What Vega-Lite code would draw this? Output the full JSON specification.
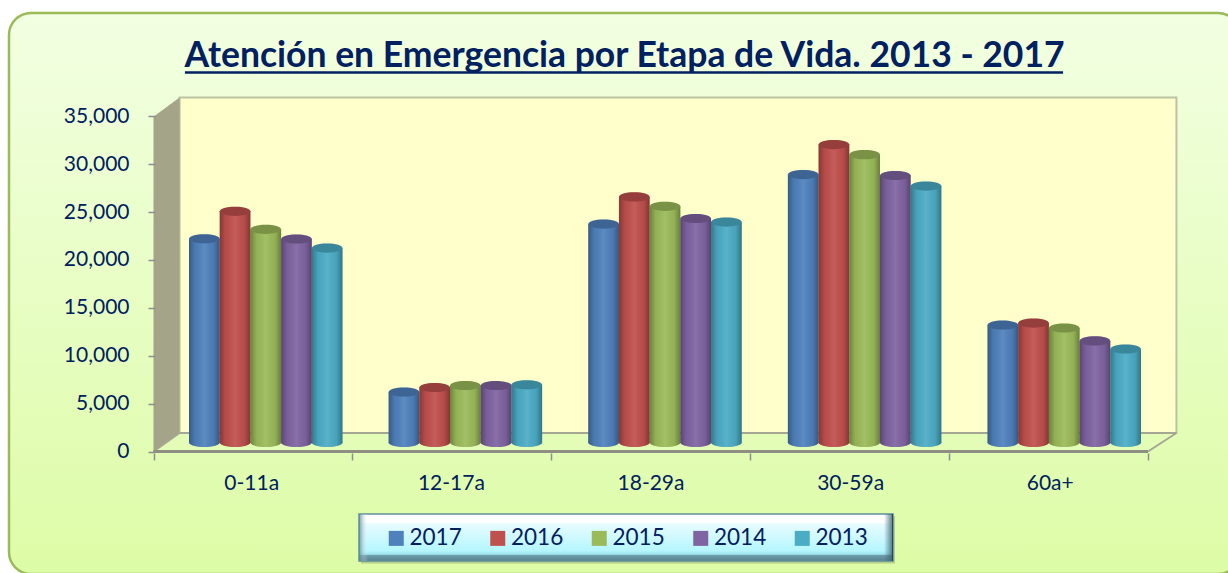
{
"$schema":"https://vega.github.io/schema/vega-lite/v6.json",
"width":1231,"height":561,
"autosize":{"type":"none"},
"padding":{"left":9,"top":13,"right":0,"bottom":0},
"background":"#ffffff",
"config":{"view":{"stroke":null}},
"title":{"text":"Atención en Emergencia por Etapa de Vida. 2013 - 2017","font":"Lato","fontSize":35.5,"fontWeight":"bold","color":"#002060","anchor":"middle","offset":-91,"baseline":"alphabetic"},
"datasets":{
"bars":[
{"etapa":"0-11a","year":"2017","value":21270},{"etapa":"0-11a","year":"2016","value":24130},{"etapa":"0-11a","year":"2015","value":22250},{"etapa":"0-11a","year":"2014","value":21240},{"etapa":"0-11a","year":"2013","value":20300},
{"etapa":"12-17a","year":"2017","value":5270},{"etapa":"12-17a","year":"2016","value":5740},{"etapa":"12-17a","year":"2015","value":5950},{"etapa":"12-17a","year":"2014","value":5950},{"etapa":"12-17a","year":"2013","value":6030},
{"etapa":"18-29a","year":"2017","value":22800},{"etapa":"18-29a","year":"2016","value":25630},{"etapa":"18-29a","year":"2015","value":24650},{"etapa":"18-29a","year":"2014","value":23380},{"etapa":"18-29a","year":"2013","value":23010},
{"etapa":"30-59a","year":"2017","value":27970},{"etapa":"30-59a","year":"2016","value":31100},{"etapa":"30-59a","year":"2015","value":30040},{"etapa":"30-59a","year":"2014","value":27870},{"etapa":"30-59a","year":"2013","value":26770},
{"etapa":"60a+","year":"2017","value":12265},{"etapa":"60a+","year":"2016","value":12470},{"etapa":"60a+","year":"2015","value":11950},{"etapa":"60a+","year":"2014","value":10600},{"etapa":"60a+","year":"2013","value":9760}
]},
"layer":[
{"layer":[
{"data":{"values":[{"a":-0.7265,"b":5.4625,"hi":44833,"lo":-13727}]},
 "mark":{"type":"rect","cornerRadius":22,"stroke":"#9BBB59","strokeWidth":2.5,"fill":{"gradient":"linear","x1":0,"y1":0,"x2":0,"y2":1,"stops":[{"offset":0,"color":"#F2FFE2"},{"offset":1,"color":"#DDFCA6"}]}},
 "encoding":{"x":{"field":"a","type":"quantitative","title":null,"scale":{"domain":[0,5],"range":[144.5,1139],"nice":false,"zero":false},"axis":{"orient":"bottom","values":[0,1,2,3,4,5],"title":null,"labels":false,"domain":false,"grid":false,"ticks":true,"tickSize":7,"tickColor":"#8E8E8E","tickWidth":1.5,"offset":-121,"zindex":1}},
 "x2":{"field":"b"},
 "y":{"field":"hi","type":"quantitative","title":null,"scale":{"domain":[0,35000],"range":[429.5,94.2],"nice":false,"zero":false}},"y2":{"field":"lo"}}},
{"data":{"values":[{"a":0.131,"b":5.143,"lo":992,"hi":36013}]},
 "mark":{"type":"rect","fill":"#FFFFCC","stroke":"#BCC2A2","strokeWidth":2},
 "encoding":{"x":{"field":"a","type":"quantitative","title":null},"x2":{"field":"b"},"y":{"field":"hi","type":"quantitative","title":null},"y2":{"field":"lo"}}},
{"data":{"values":[{"a":0,"hi":34008,"lo":-939},{"a":0.131,"hi":36013,"lo":992}]},
 "mark":{"type":"area","fill":"#A4A488","line":false},
 "encoding":{"x":{"field":"a","type":"quantitative","title":null},"y":{"field":"hi","type":"quantitative","title":null,"stack":null},"y2":{"field":"lo"}}},
{"data":{"values":[{"a":0,"hi":-939,"lo":-939},{"a":0.131,"hi":992,"lo":-939},{"a":5,"hi":992,"lo":-939},{"a":5.143,"hi":992,"lo":992}]},
 "mark":{"type":"area","fill":"#E3FCB6","line":false},
 "encoding":{"x":{"field":"a","type":"quantitative","title":null},"y":{"field":"hi","type":"quantitative","title":null,"stack":null},"y2":{"field":"lo"}}},
{"data":{"values":[
 {"a":0.131,"b":5.143,"hi":992,"lo":992},
 {"a":5,"b":5.143,"hi":-939,"lo":992},
 {"a":0,"b":0.131,"hi":-939,"lo":992}]},
 "mark":{"type":"rule","stroke":"#A6A695","strokeWidth":2},
 "encoding":{"x":{"field":"a","type":"quantitative","title":null},"x2":{"field":"b"},"y":{"field":"hi","type":"quantitative","title":null},"y2":{"field":"lo"}}},
{"data":{"values":[{"a":0,"b":5,"hi":-939}]},
 "mark":{"type":"rule","stroke":"#8E8E82","strokeWidth":3},
 "encoding":{"x":{"field":"a","type":"quantitative","title":null},"x2":{"field":"b"},"y":{"field":"hi","type":"quantitative","title":null}}},
{"data":{"values":[{"a":0.158,"b":4.573,"hi":38622}]},
 "mark":{"type":"rule","stroke":"#002060","strokeWidth":2.5},
 "encoding":{"x":{"field":"a","type":"quantitative","title":null},"x2":{"field":"b"},"y":{"field":"hi","type":"quantitative","title":null}}},
{"data":{"values":[{"a":1.0432,"b":3.728,"hi":-7700,"lo":-12620}]},
 "mark":{"type":"rect","fill":"#9DB27A","opacity":0.6},
 "encoding":{"x":{"field":"a","type":"quantitative","title":null},"x2":{"field":"b"},"y":{"field":"hi","type":"quantitative","title":null},"y2":{"field":"lo"}}},
{"data":{"values":[{"a":1.0332,"b":3.718,"hi":-7463,"lo":-12370}]},
 "mark":{"type":"rect","stroke":"#5F8F9B","strokeWidth":1.5,"fill":{"gradient":"linear","x1":0,"y1":0,"x2":0,"y2":1,"stops":[{"offset":0,"color":"#FFFFFF"},{"offset":0.17,"color":"#FFFFFF"},{"offset":0.22,"color":"#E6FCFF"},{"offset":0.78,"color":"#B5F6FF"},{"offset":0.86,"color":"#A0E2EC"},{"offset":0.87,"color":"#6F9FAB"},{"offset":1,"color":"#57828F"}]}},
 "encoding":{"x":{"field":"a","type":"quantitative","title":null},"x2":{"field":"b"},"y":{"field":"hi","type":"quantitative","title":null},"y2":{"field":"lo"}}},
{"data":{"values":[{"a":1.0332,"b":1.0784,"hi":-7463,"lo":-12370}]},
 "mark":{"type":"rect","fill":{"gradient":"linear","x1":0,"y1":0,"x2":1,"y2":0,"stops":[{"offset":0,"color":"rgba(80,130,145,0.8)"},{"offset":1,"color":"rgba(255,255,255,0)"}]}},
 "encoding":{"x":{"field":"a","type":"quantitative","title":null},"x2":{"field":"b"},"y":{"field":"hi","type":"quantitative","title":null},"y2":{"field":"lo"}}},
{"data":{"values":[{"a":3.6727,"b":3.718,"hi":-7463,"lo":-12370}]},
 "mark":{"type":"rect","fill":{"gradient":"linear","x1":0,"y1":0,"x2":1,"y2":0,"stops":[{"offset":0,"color":"rgba(60,100,115,0)"},{"offset":0.85,"color":"rgba(60,100,115,0.75)"},{"offset":1,"color":"rgba(15,40,50,1)"}]}},
 "encoding":{"x":{"field":"a","type":"quantitative","title":null},"x2":{"field":"b"},"y":{"field":"hi","type":"quantitative","title":null},"y2":{"field":"lo"}}}
]},
{"data":{"name":"bars"},
 "encoding":{
  "x":{"field":"etapa","type":"nominal","sort":null,"title":null,"scale":{"domain":["0-11a","12-17a","18-29a","30-59a","60a+"],"range":[180,1132],"paddingInner":0.231,"paddingOuter":0},"axis":{"orient":"bottom","title":null,"domain":false,"ticks":false,"grid":false,"labelAngle":0,"labelOffset":-14,"labelPadding":19,"labelFont":"Lato","labelFontSize":21,"labelColor":"#002060","offset":-121,"zindex":1}},
  "xOffset":{"field":"year","type":"nominal","scale":{"domain":["2017","2016","2015","2014","2013"]}}
 },
 "layer":[
 {"mark":{"type":"point","filled":true,"opacity":1,"shape":"M-1,0A1,0.3,0,1,1,1,0A1,0.3,0,1,1,-1,0Z","size":940},
  "encoding":{"y":{"datum":0,"type":"quantitative","title":null},"color":{"field":"year","type":"nominal","title":null,"scale":{"domain":["2017","2016","2015","2014","2013"],"range":["#4F81BD","#C0504D","#9BBB59","#8064A2","#4BACC6"]}}}},
 {"mark":{"type":"point","filled":true,"opacity":1,"shape":"M-1,0A1,0.3,0,1,1,1,0A1,0.3,0,1,1,-1,0Z","size":940,"fill":{"gradient":"linear","x1":0,"y1":0,"x2":1,"y2":0,"stops":[{"offset":0,"color":"rgba(0,0,0,0.3)"},{"offset":0.2,"color":"rgba(0,0,0,0.05)"},{"offset":0.5,"color":"rgba(255,255,255,0.08)"},{"offset":0.8,"color":"rgba(0,0,0,0.05)"},{"offset":1,"color":"rgba(0,0,0,0.32)"}]}},
  "encoding":{"y":{"datum":0,"type":"quantitative","title":null}}},
 {"mark":{"type":"bar"},
  "encoding":{
   "y":{"field":"value","type":"quantitative","stack":null,"title":null,
     "axis":{"orient":"left","values":[0,5000,10000,15000,20000,25000,30000,35000],"labelExpr":"format(datum.value, ',')","title":null,"domain":false,"grid":false,"tickSize":7,"tickColor":"#8E8E8E","tickWidth":1.5,"tickOffset":9,"offset":-146,"labelFont":"Lato","labelFontSize":21,"labelColor":"#002060","labelPadding":19,"zindex":1}},
   "color":{"field":"year","type":"nominal","title":null,"legend":{"orient":"none","legendX":376,"legendY":514,"direction":"horizontal","columns":5,"gridAlign":"all","title":null,"symbolType":"square","symbolSize":225,"symbolStrokeWidth":0,"symbolOpacity":1,"labelFont":"Lato","labelFontSize":22.5,"labelColor":"#002060","labelOffset":2,"columnPadding":24.5,"padding":0}}}},
 {"mark":{"type":"bar","fill":{"gradient":"linear","x1":0,"y1":0,"x2":1,"y2":0,"stops":[{"offset":0,"color":"rgba(0,0,0,0.3)"},{"offset":0.2,"color":"rgba(0,0,0,0.05)"},{"offset":0.5,"color":"rgba(255,255,255,0.08)"},{"offset":0.8,"color":"rgba(0,0,0,0.05)"},{"offset":1,"color":"rgba(0,0,0,0.32)"}]}},
  "encoding":{"y":{"field":"value","type":"quantitative","stack":null,"title":null}}},
 {"mark":{"type":"point","filled":true,"opacity":1,"shape":"M-1,0A1,0.3,0,1,1,1,0A1,0.3,0,1,1,-1,0Z","size":940},
  "encoding":{"y":{"field":"value","type":"quantitative","title":null},"color":{"field":"year","type":"nominal","title":null}}},
 {"mark":{"type":"point","filled":true,"opacity":1,"shape":"M-1,0A1,0.3,0,1,1,1,0A1,0.3,0,1,1,-1,0Z","size":940,"fill":"rgba(0,0,0,0.22)"},
  "encoding":{"y":{"field":"value","type":"quantitative","title":null}}}
 ]}
],
"resolve":{"scale":{"x":"independent"}}
}
